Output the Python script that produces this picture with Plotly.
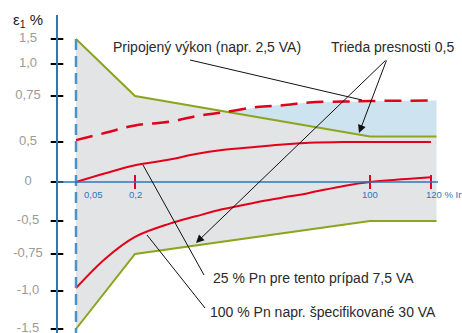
import numpy as np
import plotly.graph_objects as go

# ---------------- data ----------------
X_TICK_VALUES = [0.05, 0.2, 100, 120]            # % In
X_TICK_TEXT = ["0,05", "0,2", "100", "120 % In"]
Y_TICK_VALUES = [1.5, 1.0, 0.75, 0.5, 0, -0.5, -0.75, -1.0, -1.5]   # epsilon %
Y_TICK_TEXT = ["1,5", "1,0", "0,75", "0,5", "0", "-0,5", "-0,75", "-1,0", "-1,5"]

CURRENT_PCT = [0.05, 0.1, 0.2, 0.5, 1, 2, 5, 10, 20, 50, 100, 120]
ERR_25PN = [0.0, 0.11, 0.21, 0.28, 0.35, 0.40, 0.44, 0.47, 0.49, 0.50, 0.50, 0.50]
ERR_100PN = [-0.98, -0.78, -0.62, -0.52, -0.44, -0.35, -0.26, -0.20, -0.14, -0.05, 0.0, 0.06]

CURRENT_PCT_CONN = [0.05, 0.1, 0.2, 0.5, 1, 2, 5, 10, 20, 50, 100, 120, 122]
ERR_CONNECTED = [0.51, 0.55, 0.59, 0.61, 0.64, 0.66, 0.69, 0.70, 0.715, 0.72, 0.723, 0.725, 0.725]

LIMIT_PCT = [0.05, 0.2, 100, 122]
LIMIT_UPPER = [1.5, 0.75, 0.53, 0.53]
LIMIT_LOWER = [-1.5, -0.75, -0.5, -0.5]

# ---------------- the chart's own (non-linear) axis scales ----------------
X_SCALE = [19, 78, 313, 374]                        # drawn distance of x ticks
Y_SCALE = [143, 118, 86, 40, 0, -39, -72, -109, -147]  # drawn distance of y ticks


def piecewise(v, knots, pos):
    v = np.atleast_1d(np.asarray(v, float))
    k = np.asarray(knots, float)
    p = np.asarray(pos, float)
    o = np.argsort(k)
    k, p = k[o], p[o]
    out = np.interp(v, k, p)
    lo, hi = v < k[0], v > k[-1]
    out[lo] = p[0] + (v[lo] - k[0]) * (p[1] - p[0]) / (k[1] - k[0])
    out[hi] = p[-1] + (v[hi] - k[-1]) * (p[-1] - p[-2]) / (k[-1] - k[-2])
    return out


def sx(v):
    return piecewise(np.log10(v), np.log10(X_TICK_VALUES), X_SCALE)


def sy(v):
    return piecewise(v, Y_TICK_VALUES, Y_SCALE)


def P(px, py):  # helper for annotation placement in the drawing frame
    return px - 57, 182 - py


RED = "#e2001a"
GREEN = "#8ba51c"
BLUE = "#2a78b6"
DBLUE = "#4a93c7"
FONT = "Liberation Sans, Arial, sans-serif"
TXT = "#2a2a2a"

fig = go.Figure()

# grey tolerance band
bx = np.concatenate([sx(LIMIT_PCT), sx(LIMIT_PCT)[::-1]])
by = np.concatenate([sy(LIMIT_UPPER), sy(LIMIT_LOWER)[::-1]])
fig.add_trace(go.Scatter(x=bx, y=by, fill="toself", fillcolor="#e3e4e6",
                         line=dict(width=0), mode="lines", hoverinfo="skip"))

# light blue region between upper limit and connected-load curve
gx = np.linspace(sx(0.05)[0], sx(122)[0], 500)
gu = np.interp(gx, sx(LIMIT_PCT), sy(LIMIT_UPPER))
gd = np.interp(gx, sx(CURRENT_PCT_CONN), sy(ERR_CONNECTED))
top = np.maximum(gu, gd)
fig.add_trace(go.Scatter(x=np.concatenate([gx, gx[::-1]]),
                         y=np.concatenate([top, gu[::-1]]),
                         fill="toself", fillcolor="#cde3ef",
                         line=dict(width=0), mode="lines", hoverinfo="skip"))

# limit lines
for lim in (LIMIT_UPPER, LIMIT_LOWER):
    fig.add_trace(go.Scatter(x=sx(LIMIT_PCT), y=sy(lim), mode="lines",
                             line=dict(color=GREEN, width=2)))

# error curves
fig.add_trace(go.Scatter(x=sx(CURRENT_PCT), y=sy(ERR_25PN), mode="lines",
                         line=dict(color=RED, width=2, shape="spline")))
fig.add_trace(go.Scatter(x=sx(CURRENT_PCT), y=sy(ERR_100PN), mode="lines",
                         line=dict(color=RED, width=2, shape="spline")))
fig.add_trace(go.Scatter(x=sx(CURRENT_PCT_CONN), y=sy(ERR_CONNECTED), mode="lines",
                         line=dict(color=RED, width=2.5, shape="spline",
                                   dash="17px,9px")))

# dashed vertical at 0.05 % In
fig.add_trace(go.Scatter(x=[sx(0.05)[0]] * 2, y=[sy(1.5)[0], -151], mode="lines",
                         line=dict(color=DBLUE, width=2.5, dash="11px,6px")))

# axes lines
fig.add_shape(type="line", x0=0, x1=0, y0=-151, y1=167, line=dict(color=BLUE, width=2))
fig.add_shape(type="line", x0=0, x1=381, y0=0, y1=0, line=dict(color=BLUE, width=1.5))

# y ticks (black) and x ticks (red)
fig.add_trace(go.Scatter(x=[0] * len(Y_TICK_VALUES), y=sy(Y_TICK_VALUES), mode="markers",
                         marker=dict(symbol="line-ew", size=9,
                                     line=dict(color="black", width=2))))
fig.add_trace(go.Scatter(x=sx(X_TICK_VALUES[1:]), y=[0] * 3, mode="markers",
                         marker=dict(symbol="line-ns", size=10,
                                     line=dict(color=RED, width=2))))

# y tick labels
fig.add_trace(go.Scatter(x=[-29] * len(Y_TICK_VALUES), y=sy(Y_TICK_VALUES), mode="text",
                         text=Y_TICK_TEXT, textposition="middle center",
                         textfont=dict(family=FONT, size=13, color="#9a9a9a")))

annotations = []
# x tick labels
xa = ["left", "center", "center", "left"]
xs = [6, 0, 0, -7]
for v, t, a, s in zip(X_TICK_VALUES, X_TICK_TEXT, xa, xs):
    annotations.append(dict(x=sx(v)[0], y=0, xref="x", yref="y", text=t, showarrow=False,
                            xanchor=a, yanchor="middle", xshift=s, yshift=-12,
                            font=dict(family=FONT, size=9.5, color=BLUE)))

# axis title
x, y = P(28, 20)
annotations.append(dict(x=x, y=y, xref="x", yref="y", text="ε<sub>1</sub> %",
                        showarrow=False, font=dict(family=FONT, size=15, color="#222")))

# labels
for txt, (px, py) in [("Pripojený výkon (napr. 2,5 VA)", (111, 47)),
                      ("Trieda presnosti 0,5", (329, 47)),
                      ("25 % Pn pre tento prípad 7,5 VA", (211, 278)),
                      ("100 % Pn napr. špecifikované 30 VA", (208, 312))]:
    x, y = P(px, py)
    annotations.append(dict(x=x, y=y, xref="x", yref="y", text=txt, showarrow=False,
                            xanchor="left", yanchor="middle",
                            font=dict(family=FONT, size=14, color=TXT)))

# leader lines
for (a, b) in [((190, 60), (362, 100)), ((143, 165), (204, 275)), ((147, 235), (205, 308))]:
    x0, y0 = P(*a)
    x1, y1 = P(*b)
    fig.add_shape(type="line", x0=x0, y0=y0, x1=x1, y1=y1, line=dict(color="#111", width=1))

# arrows from "Trieda presnosti"
tx, ty = P(387, 59)
for head in [(359, 133), (196, 243)]:
    hx, hy = P(*head)
    annotations.append(dict(x=hx, y=hy, ax=tx, ay=ty, xref="x", yref="y", axref="x", ayref="y",
                            text="", showarrow=True, arrowhead=2, arrowsize=1.6,
                            arrowwidth=1, arrowcolor="#111"))

fig.update_layout(
    width=462, height=333, margin=dict(l=0, r=0, t=0, b=0),
    paper_bgcolor="white", plot_bgcolor="white", showlegend=False,
    xaxis=dict(range=[-57, 405], visible=False, fixedrange=True),
    yaxis=dict(range=[-151, 182], visible=False, fixedrange=True),
    annotations=annotations,
)

fig.write_html("out.html")
